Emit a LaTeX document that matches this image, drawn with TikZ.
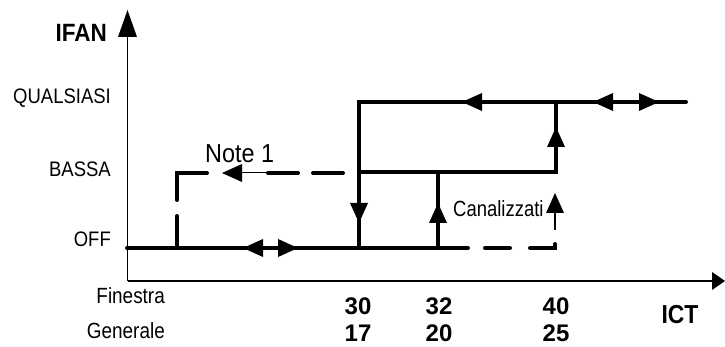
\documentclass[tikz,border=0pt]{standalone}
\usepackage{graphicx}
\usepackage{fontspec}
\setmainfont{Liberation Sans}
\newcommand{\sqz}[2]{\scalebox{#1}[1]{#2}}
\begin{document}
\begin{tikzpicture}[x=1pt,y=-1pt,
  thickline/.style={line width=4pt,line cap=round},
  thinline/.style={line width=1.5pt},
  axisline/.style={line width=1.5pt},
  lbl/.style={inner sep=0pt,font=\fontsize{21}{22}\selectfont},
  tick/.style={inner sep=0pt,anchor=base,font=\fontsize{24}{26}\selectfont\bfseries},
  tri/.pic={\fill (0,0) -- (-20,-9) -- (-20,9) -- cycle;}]
\useasboundingbox (0,0) rectangle (725,347);
% axes
\draw[axisline] (127.5,281) -- (127.5,36);
\fill (127.5,10) -- (118,37) -- (137,37) -- cycle;
\draw[axisline] (127.5,281) -- (713,281);
\fill (725,281) -- (712,272) -- (712,290) -- cycle;
% OFF level
\draw[thickline] (127,248) -- (468,248);
\draw[thickline] (485,248) -- (510,248);
\draw[thickline] (530,248) -- (555,248) -- (555,244);
\draw[thinline] (555,230) -- (555,212);
% dashed path to BASSA (Note 1)
\draw[thickline] (177,248) -- (177,216);
\draw[thickline] (177,200) -- (177,173) -- (207,173);
\draw[line width=1pt] (230,173) -- (268,173);
\draw[thickline] (268,173) -- (298,173);
\draw[thickline] (313,173) -- (343,173);
% solid paths
\draw[thickline] (359,248) -- (359,102) -- (686,102);
\draw[thickline] (359,172) -- (556,172) -- (556,102);
\draw[thickline] (438,248) -- (438,172);
% arrowheads
\pic[rotate=180] at (243,248) {tri};
\pic at (298,248) {tri};
\pic[rotate=180] at (222,173) {tri};
\pic[rotate=-90] at (359,223) {tri};
\pic[rotate=90] at (438,203) {tri};
\pic[rotate=90] at (555,193) {tri};
\pic[rotate=90] at (556,127) {tri};
\pic[rotate=180] at (462,102) {tri};
\pic[rotate=180] at (593,102) {tri};
\pic at (659,102) {tri};
% labels
\node[inner sep=0pt,anchor=base east,font=\fontsize{25}{26}\selectfont\bfseries] (ifan) at (107,42) {\sqz{0.9}{IFAN}};
\node[lbl,anchor=base east] (qual) at (111,104) {\sqz{0.88}{QUALSIASI}};
\node[lbl,anchor=base east] (bassa) at (111,177) {\sqz{0.88}{BASSA}};
\node[lbl,anchor=base east] (off) at (111,247) {\sqz{0.88}{OFF}};
\node[lbl,anchor=base east,font=\fontsize{22}{23}\selectfont] (fin) at (165,303) {\sqz{0.86}{Finestra}};
\node[lbl,anchor=base east,font=\fontsize{22}{23}\selectfont] (gen) at (165,338) {\sqz{0.86}{Generale}};
\node[inner sep=0pt,anchor=base west,font=\fontsize{26}{27}\selectfont] (note) at (205,163) {\sqz{0.9}{Note 1}};
\node[inner sep=0pt,anchor=base west,font=\fontsize{22}{23}\selectfont] (can) at (453,217) {\sqz{0.84}{Canalizzati}};
\node[tick] (t30) at (358,314) {30};
\node[tick] (t17) at (358,341) {17};
\node[tick] (t32) at (439,314) {32};
\node[tick] (t20) at (439,341) {20};
\node[tick] (t40) at (556,314) {40};
\node[tick] (t25) at (556,341) {25};
\node[tick,font=\fontsize{26}{27}\selectfont\bfseries] (ict) at (680,323) {\sqz{0.88}{ICT}};
\end{tikzpicture}
\end{document}
